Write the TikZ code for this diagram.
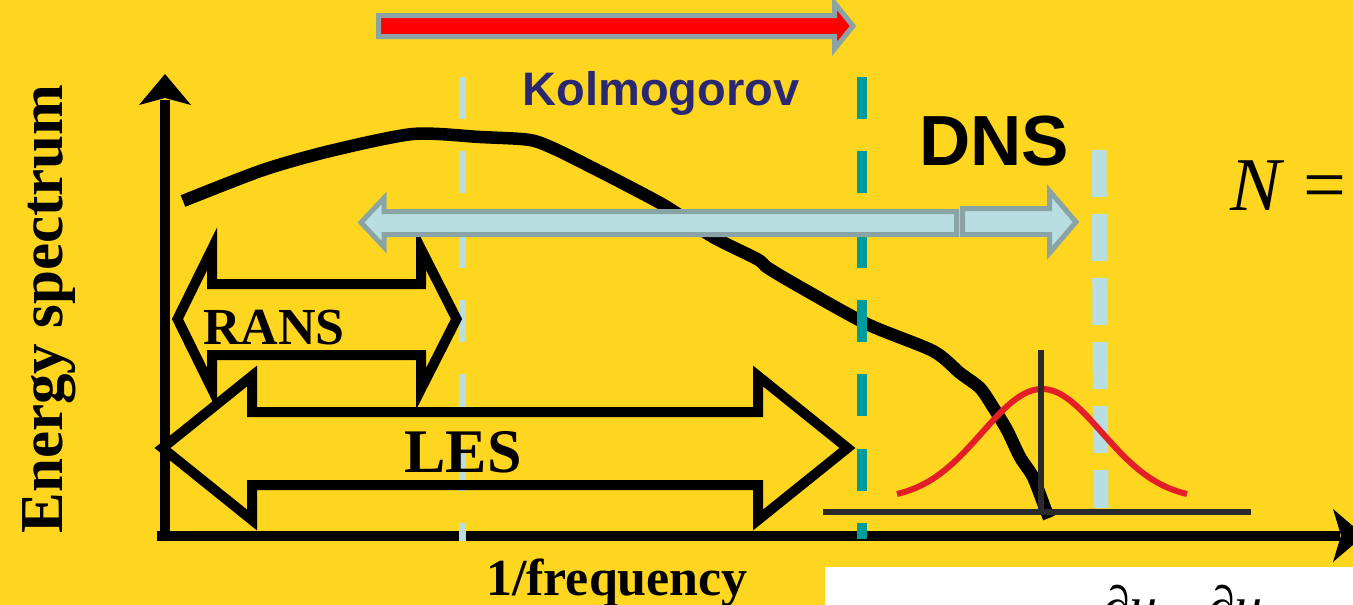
\documentclass[tikz,border=0pt]{standalone}
\usepackage{fontspec}
\setmainfont{Liberation Serif}
\newfontfamily\headsans{Liberation Sans}
\definecolor{bgyellow}{RGB}{254,213,31}
\definecolor{tealdash}{RGB}{0,155,155}
\definecolor{paleblue}{RGB}{185,222,226}
\definecolor{rimgray}{RGB}{138,164,166}
\definecolor{navytext}{RGB}{41,40,112}
\definecolor{bellred}{RGB}{228,30,38}
\definecolor{darkline}{RGB}{42,42,42}
\tikzset{
  lbl/.style={inner sep=0pt, outer sep=0pt},
  axisline/.style={line width=10pt, black},
  axishead/.style={fill=black, draw=none},
  spectrum/.style={line width=12.5pt, black, line join=round},
  rangearrow/.style={line width=10pt, black, line join=miter},
  paleblock/.style={draw=rimgray, fill=paleblue, line width=5pt, line join=miter},
  redblock/.style={draw=rimgray, fill=red, line width=5pt, line join=miter},
  kolmodash/.style={line width=10pt, tealdash, dash pattern=on 42pt off 32.3pt},
  paledash/.style={line width=7pt, paleblue, dash pattern=on 42pt off 32.3pt},
  finedash/.style={line width=15pt, paleblue, dash pattern=on 47pt off 17pt},
}
\begin{document}
\begin{tikzpicture}[x=1pt, y=-1pt]
\useasboundingbox (0,0) rectangle (1353,605);
\clip (0,0) rectangle (1353,605);
\fill[bgyellow] (0,0) rectangle (1353,605);

% white panel with the start of an equation
\fill[white] (825,567) rectangle (1353,605);
\node[lbl, anchor=base west, font=\fontsize{56}{56}\selectfont] (eq) at (1102,625)
  {∂\textit{u}\textsubscript{\textit{i}}\hspace{38pt}∂\textit{u}\textsubscript{\textit{j}}};

% axes
\draw[axisline] (165,541) -- (165,100);
\fill[axishead] (139,105) -- (165,74) -- (191,105) -- (165,98) -- cycle;
\draw[axisline] (157,536) -- (1340,536);
\fill[axishead] (1333,509) -- (1364,535.5) -- (1333,562) -- (1341,535.5) -- cycle;

% energy spectrum curve
\draw[spectrum] plot[smooth, tension=0.45] coordinates {
  (183,201) (263,170) (330,151) (413,134) (480,137) (530,140) (557,150)
  (597,170) (630,187) (667,207) (713,237) (757,259) (768,268) (800,287)
  (867,324) (933,351) (960,373) (980,388) (993,407) (1007,430) (1020,457)
  (1033,477) (1045,508) (1049,518)};

% scale separators
\draw[paledash] (462,77) -- (462,541);
\draw[kolmodash] (862,77) -- (862,539);
\draw[finedash] (1099,150) -- (1101,508);

% filter kernel sketch
\draw[darkline, line width=6pt] (823,511.5) -- (1251,511.5);
\draw[bellred, line width=6pt] plot[domain=897:1187, samples=90]
  (\x, {500 - 111*exp(-0.5*((\x-1042)/60)^2)});
\draw[darkline, line width=6pt] (1041,350) -- (1041,514);

% RANS and LES ranges
\draw[rangearrow] (177.5,319) -- (212,249) -- (212,284) -- (421,284) -- (421,249)
  -- (456.5,319) -- (421,389) -- (421,355) -- (212,355) -- (212,389) -- cycle;
\draw[rangearrow] (162.5,448) -- (252,376) -- (252,412) -- (758,412) -- (758,376)
  -- (847.5,448) -- (758,520) -- (758,485) -- (252,485) -- (252,520) -- cycle;

% resolved range arrows
\draw[paleblock] (361,222.5) -- (384,198) -- (384,211.5) -- (956.5,211.5)
  -- (956.5,234.5) -- (384,234.5) -- (384,247) -- cycle;
\draw[paleblock] (962.5,208.5) -- (1049.5,208.5) -- (1049.5,191) -- (1076,222)
  -- (1049.5,253) -- (1049.5,234.5) -- (962.5,234.5) -- cycle;
\draw[redblock] (378.5,15.5) -- (834.5,15.5) -- (834.5,3) -- (853,26)
  -- (834.5,49) -- (834.5,36.5) -- (378.5,36.5) -- cycle;

% labels
\node[lbl, anchor=base, rotate=90, font=\fontsize{61}{61}\selectfont\bfseries]
  (ylab) at (62,309) {Energy spectrum};
\node[lbl, anchor=base, font=\fontsize{52}{52}\selectfont\bfseries]
  (xlab) at (617,595) {1/frequency};
\node[lbl, anchor=base, font=\fontsize{52}{52}\selectfont\bfseries]
  (rans) at (274,344) {RANS};
\node[lbl, anchor=base, font=\fontsize{62}{62}\selectfont\bfseries]
  (les) at (463,472) {LES};
\node[lbl, anchor=base, text=navytext, font=\headsans\fontsize{47}{47}\selectfont\bfseries]
  (kolmo) at (661,105) {Kolmogorov};
\node[lbl, anchor=base, font=\headsans\fontsize{71}{71}\selectfont\bfseries]
  (dns) at (994,165) {DNS};
\node[lbl, anchor=base west, font=\fontsize{76}{76}\selectfont]
  (nres) at (1230,210) {\textit{N} =};
\end{tikzpicture}
\end{document}
